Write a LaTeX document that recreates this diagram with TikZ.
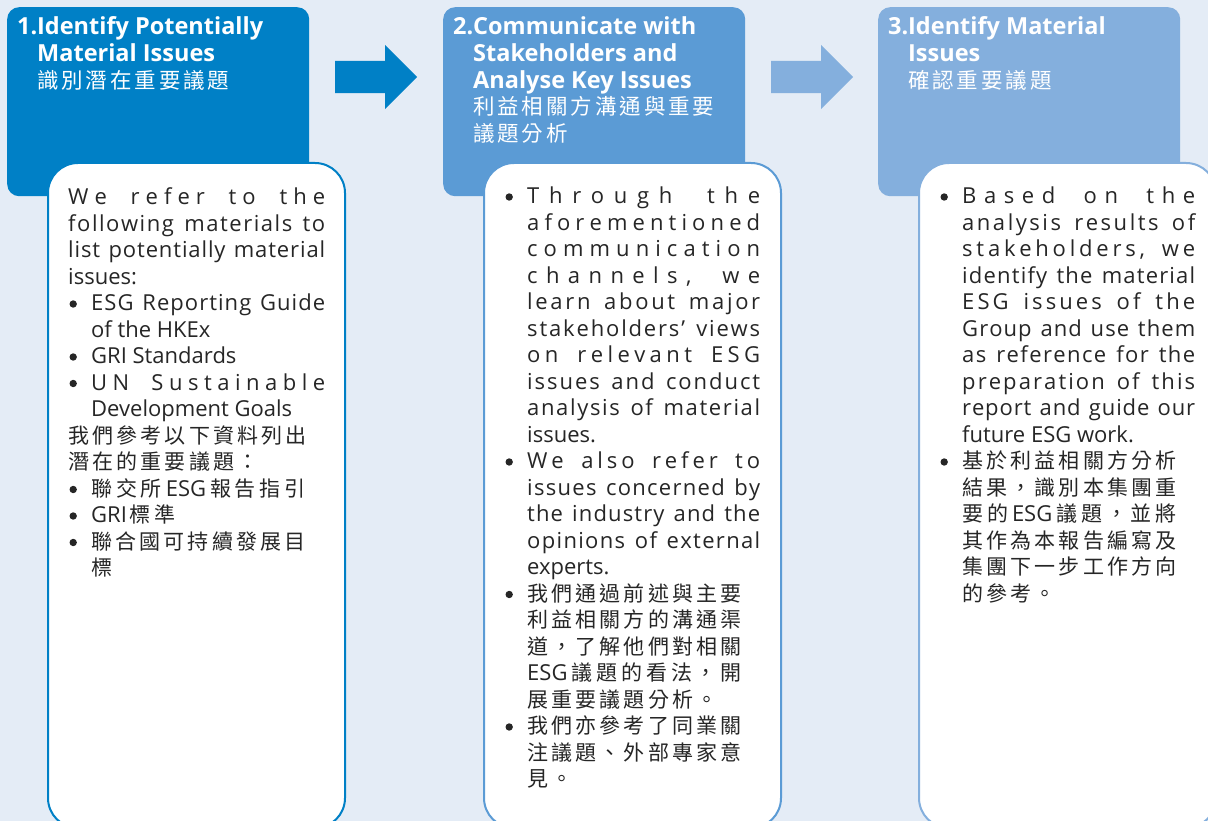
\documentclass[tikz,border=0pt]{standalone}
\usepackage{fontspec}
\setmainfont{Open Sans}
\newfontfamily\cjkfont{Noto Sans CJK TC}
\usetikzlibrary{shapes.arrows}

\definecolor{pagebg}{RGB}{228,236,246}
\definecolor{stepone}{RGB}{0,128,198}
\definecolor{steptwo}{RGB}{91,155,213}
\definecolor{stepthree}{RGB}{132,175,221}
\definecolor{bodytext}{RGB}{38,38,38}

\newdimen\colw
\newdimen\widew
\newdimen\bulind
\def\cjsize{21}
\newcommand\cjf{\cjkfont\mdseries\fontsize{\cjsize}{26.5}\selectfont}
\newcommand\bodylat{\rmfamily\mdseries\fontsize{22}{26.5}\selectfont}
% round list bullet hung in the left margin
\newcommand\bmark{\llap{\tikz[baseline=0pt]\fill[bodytext] (0pt,7pt) circle[radius=3.7pt];\hskip14.3pt}}

\makeatletter
% justified line: stretchable space between all letters, more between words
\def\jl@end{\jl@end}
\def\jl@loop{\futurelet\jl@next\jl@check}
\def\jl@check{%
  \ifx\jl@next\jl@end \let\jl@do\jl@stop
  \else\ifx\jl@next\@sptoken \let\jl@do\jl@space
  \else \let\jl@do\jl@char\fi\fi
  \jl@do}
\def\jl@stop\jl@end{\unskip}
\@firstofone{\def\jl@space} {\unskip\hskip\fontdimen2\font plus 3fil minus 1pt\jl@loop}
\def\jl@char#1{{#1}\hskip0pt plus 1fil\jl@loop}
% CJK characters on a fixed pitch
\newcommand\cjkchars[2][24.2pt]{{\cjf\@tfor\cjk@c:=#2\do{\makebox[#1][l]{\cjk@c}}}}

\newcommand\jline[1]{\hbox to\colw{\jl@loop#1\jl@end}}
\newcommand\wjline[1]{\hbox{\hskip-\bulind\hbox to\widew{\jl@loop#1\jl@end}}}
\newcommand\bjline[1]{\hbox{\bmark\hbox to\colw{\jl@loop#1\jl@end}}}
\newcommand\cjspread[2]{\hbox to #1{\cjf\jl@loop#2\jl@end}}
\makeatother

\newcommand\pline[1]{\hbox{#1}}
\newcommand\wpline[1]{\hbox{\hskip-\bulind #1}}
\newcommand\bpline[1]{\hbox{\bmark #1}}
\newcommand\cjline[1]{\hbox{\cjkchars{#1}}}
\newcommand\wcjline[1]{\hbox{\hskip-\bulind\cjkchars{#1}}}
\newcommand\bcjline[1]{\hbox{\bmark\cjkchars{#1}}}
\newcommand\headcjk[1]{\hbox{\def\cjsize{21.5}\cjkchars[24.4pt]{#1}}}

\tikzset{
  header/.style={fill=#1, rounded corners=12pt, anchor=north west, inner sep=0pt,
    minimum width=302pt, minimum height=189pt},
  panel/.style={draw=#1, line width=2pt, fill=white, rounded corners=30pt,
    anchor=north west, inner sep=0pt, minimum width=297pt, minimum height=665pt},
  flowarrow/.style={single arrow, fill=#1, draw=none, inner xsep=0pt, inner ysep=16pt,
    minimum height=82pt, single arrow head extend=16pt,
    single arrow tip angle=90, anchor=tail},
  headtext/.style={anchor=base west, inner sep=0pt, text=white,
    font=\fontsize{23.5}{26.6}\selectfont\bfseries},
  bodynode/.style={anchor=base west, inner sep=0pt, text=bodytext,
    font=\bodylat},
}

\begin{document}
\begin{tikzpicture}[x=1pt,y=-1pt]
\useasboundingbox (0,0) rectangle (1208,821);
\fill[pagebg] (0,0) rectangle (1208,821);

% step headers
\node[header=stepone]   (h1) at (7,7)   {};
\node[header=steptwo]   (h2) at (443,7) {};
\node[header=stepthree] (h3) at (878,7) {};

% arrows between the steps
\node[flowarrow=stepone]   (a1) at (335,77) {};
\node[flowarrow=stepthree] (a2) at (771,77) {};

% white text panels
\node[panel=stepone]   (p1) at (47,162)  {};
\node[panel=steptwo]   (p2) at (483,162) {};
\node[panel=stepthree] (p3) at (918,162) {};

% header titles
\node[headtext] (t1) at (37,35) {\vtop{\baselineskip=26.6pt\lineskiplimit=-\maxdimen
  \hbox{\llap{1.}Identify Potentially}
  \hbox{Material Issues}
  \headcjk{識別潛在重要議題}}};
\node[headtext] (t2) at (473,35) {\vtop{\baselineskip=26.6pt\lineskiplimit=-\maxdimen
  \hbox{\llap{2.}Communicate with}
  \hbox{Stakeholders and}
  \hbox{Analyse Key Issues}
  \headcjk{利益相關方溝通與重要}
  \headcjk{議題分析}}};
\node[headtext] (t3) at (908,35) {\vtop{\baselineskip=26.6pt\lineskiplimit=-\maxdimen
  \hbox{\llap{3.}Identify Material}
  \hbox{Issues}
  \headcjk{確認重要議題}}};

% panel texts
\node[bodynode] (b1) at (91,205) {\colw=234pt\widew=257pt\bulind=23pt
\vtop{\baselineskip=26.5pt\lineskiplimit=-\maxdimen
\wjline{We refer to the}
\wjline{following materials to}
\wjline{list potentially material}
\wpline{issues:}
\bjline{ESG Reporting Guide}
\pline{of the HKEx}
\bpline{GRI Standards}
\bjline{UN Sustainable}
\pline{Development Goals}
\wcjline{我們參考以下資料列出}
\wcjline{潛在的重要議題：}
\hbox{\bmark\cjspread{214.6pt}{聯交所{\bodylat ESG}報告指引}}
\hbox{\bmark GRI\kern3pt\cjkchars{標準}}
\bcjline{聯合國可持續發展目}
\cjline{標}
}};

\node[bodynode] (b2) at (527,204) {\colw=233pt
\vtop{\baselineskip=26.5pt\lineskiplimit=-\maxdimen
\bjline{Through the}
\jline{aforementioned}
\jline{communication}
\jline{channels, we}
\jline{learn about major}
\jline{stakeholders’ views}
\jline{on relevant ESG}
\jline{issues and conduct}
\jline{analysis of material}
\pline{issues.}
\bjline{We also refer to}
\jline{issues concerned by}
\jline{the industry and the}
\jline{opinions of external}
\pline{experts.}
\bcjline{我們通過前述與主要}
\cjline{利益相關方的溝通渠}
\cjline{道，了解他們對相關}
\cjspread{214.6pt}{{\bodylat ESG}議題的看法，開}
\cjline{展重要議題分析。}
\bcjline{我們亦參考了同業關}
\cjline{注議題、外部專家意}
\cjline{見。}
}};

\node[bodynode] (b3) at (962,204) {\colw=233pt
\vtop{\baselineskip=26.5pt\lineskiplimit=-\maxdimen
\bjline{Based on the}
\jline{analysis results of}
\jline{stakeholders, we}
\jline{identify the material}
\jline{ESG issues of the}
\jline{Group and use them}
\jline{as reference for the}
\jline{preparation of this}
\jline{report and guide our}
\pline{future ESG work.}
\bcjline{基於利益相關方分析}
\cjline{結果，識別本集團重}
\cjspread{214.6pt}{要的{\bodylat ESG}議題，並將}
\cjline{其作為本報告編寫及}
\cjline{集團下一步工作方向}
\cjline{的參考。}
}};
\end{tikzpicture}
\end{document}
